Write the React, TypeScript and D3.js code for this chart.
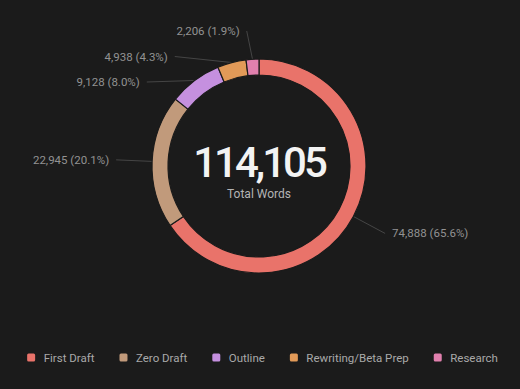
import * as d3 from 'd3';
import React, { useRef, useEffect } from 'react';

// word counts per stage
const stages = ['First Draft', 'Zero Draft', 'Outline', 'Rewriting/Beta Prep', 'Research'];
const words = [74888, 22945, 9128, 4938, 2206];
const colors = ['#e9736a', '#c19a7b', '#c590df', '#e29a58', '#e180ae'];
const centerCaption = 'Total Words';

const App = () => {
    const svgRef = useRef<SVGSVGElement>(null);

    useEffect(() => {
        const width = 520;
        const height = 389;
        const cx = 259;
        const cy = 166;
        const outerRadius = 107;
        const innerRadius = 91;
        const labelRadius = 143;
        const labelGap = 25.5;
        const font = 'Roboto, "Noto Sans", sans-serif';

        const svg = d3.select(svgRef.current);
        svg.selectAll('*').remove();
        svg.attr('width', width).attr('height', height);

        svg.append('rect')
            .attr('width', width)
            .attr('height', height)
            .attr('fill', '#1b1b1b');

        const total = d3.sum(words);
        const fmt = d3.format(',');

        const pie = d3.pie<number>().sort(null).value((d) => d);
        const arcs = pie(words);

        const arc = d3.arc<d3.PieArcDatum<number>>()
            .innerRadius(innerRadius)
            .outerRadius(outerRadius);

        const g = svg.append('g').attr('transform', `translate(${cx},${cy})`);

        // label anchors: start radial, then push apart on each side
        const labels = arcs.map((d, i) => {
            const mid = (d.startAngle + d.endAngle) / 2;
            return {
                i,
                ax: Math.sin(mid) * outerRadius,
                ay: -Math.cos(mid) * outerRadius,
                x: Math.sin(mid) * labelRadius,
                y: -Math.cos(mid) * labelRadius,
                side: Math.sin(mid) < 0 ? -1 : 1,
            };
        });

        [-1, 1].forEach((side) => {
            const group = labels.filter((l) => l.side === side).sort((a, b) => a.y - b.y);
            let prev = -Infinity;
            let shifted = false;
            const top = -labelRadius + 8;
            group.forEach((l) => {
                const y = Math.max(l.y, prev + labelGap, top);
                if (y !== l.y) shifted = true;
                l.y = y;
                prev = y;
            });
            if (shifted) {
                const ry = d3.max(group, (l) => Math.abs(l.y))! + 0.5;
                group.forEach((l) => {
                    l.x = side * labelRadius * Math.sqrt(Math.max(0, 1 - (l.y / ry) ** 2));
                });
            }
        });

        // leader lines
        g.append('g')
            .selectAll('line')
            .data(labels)
            .enter().append('line')
            .attr('x1', (l) => l.ax)
            .attr('y1', (l) => l.ay)
            .attr('x2', (l) => l.x)
            .attr('y2', (l) => l.y)
            .attr('stroke', '#454545')
            .attr('stroke-width', 1);

        // ring
        g.append('g')
            .selectAll('path')
            .data(arcs)
            .enter().append('path')
            .attr('d', arc)
            .attr('fill', (d, i) => colors[i])
            .attr('stroke', '#1b1b1b')
            .attr('stroke-width', 1.2);

        // slice labels
        g.append('g')
            .selectAll('text')
            .data(labels)
            .enter().append('text')
            .attr('x', (l) => l.x + l.side * 7)
            .attr('y', (l) => l.y + 1)
            .attr('dominant-baseline', 'middle')
            .attr('text-anchor', (l) => (l.side < 0 ? 'end' : 'start'))
            .attr('fill', '#929292')
            .style('font-family', font)
            .style('font-size', '11.5px')
            .text((l) => `${fmt(words[l.i])} (${((words[l.i] / total) * 100).toFixed(1)}%)`);

        // center total
        g.append('text')
            .attr('y', 11)
            .attr('text-anchor', 'middle')
            .attr('fill', '#f3f3f3')
            .style('font-family', font)
            .style('font-size', '42px')
            .style('font-weight', 500)
            .style('letter-spacing', '-3px')
            .text(fmt(total));

        g.append('text')
            .attr('y', 31.5)
            .attr('text-anchor', 'middle')
            .attr('fill', '#b4b4b4')
            .style('font-family', font)
            .style('font-size', '12px')
            .text(centerCaption);

        // legend, measured then centred
        const legend = svg.append('g');
        const items = legend.selectAll('g')
            .data(stages)
            .enter().append('g');

        items.append('rect')
            .attr('y', -4)
            .attr('width', 8)
            .attr('height', 8)
            .attr('rx', 1.5)
            .attr('fill', (d, i) => colors[i]);

        items.append('text')
            .attr('x', 16.5)
            .attr('y', 1)
            .attr('dominant-baseline', 'middle')
            .attr('fill', '#a9a9a9')
            .style('font-family', font)
            .style('font-size', '11.5px')
            .text((d) => d);

        let offset = 0;
        items.each(function () {
            const w = (d3.select(this).select('text').node() as SVGTextElement).getComputedTextLength();
            d3.select(this).attr('transform', `translate(${offset},0)`);
            offset += 16.5 + w + 25;
        });
        const legendWidth = offset - 25;
        legend.attr('transform', `translate(${262.5 - legendWidth / 2},357.5)`);
    }, []);

    return (
        <div style={{ position: 'fixed', left: 0, top: 0, width: 520, height: 389, background: '#1b1b1b' }}>
            <svg ref={svgRef} style={{ display: 'block' }}></svg>
        </div>
    );
};

export default App;
